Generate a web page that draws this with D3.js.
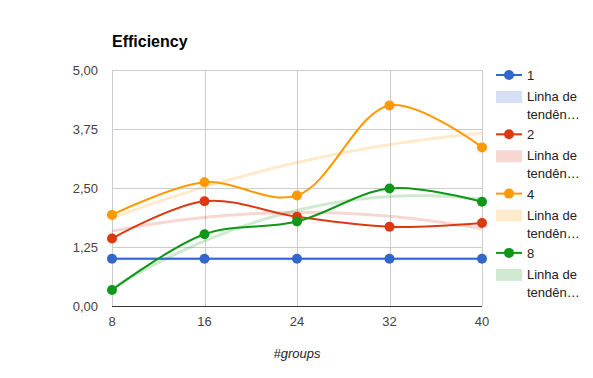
<!DOCTYPE html>
<html><head><meta charset="utf-8">
<script src="https://cdnjs.cloudflare.com/ajax/libs/d3/7.8.5/d3.min.js"></script>
<style>body{margin:0;background:#fff}svg{display:block}</style>
</head><body>
<svg id="c" width="593" height="378"></svg>
<script>
const categories = [8, 16, 24, 32, 40];
const seriesNames = ["1", "2", "4", "8"];
const s1 = [1.00, 1.00, 1.00, 1.00, 1.00];
const s2 = [1.43, 2.22, 1.89, 1.68, 1.76];
const s4 = [1.93, 2.62, 2.34, 4.25, 3.36];
const s8 = [0.34, 1.52, 1.79, 2.49, 2.21];
const yTicks = [0, 1.25, 2.5, 3.75, 5];
const colors = ["#3366cc", "#dc3912", "#ff9900", "#109618"];
const series = [s1, s2, s4, s8];

const svg = d3.select("#c");
const x = d3.scaleLinear().domain([8, 40]).range([112, 482]);
const y = d3.scaleLinear().domain([0, 5]).range([306, 70]);
const fmt = v => d3.format(".2f")(v).replace(".", ",");
const font = "'Liberation Sans', Arial, sans-serif";

// title
svg.append("text").attr("x", 112).attr("y", 47).attr("font-family", font)
  .attr("font-size", 16).attr("font-weight", "bold").attr("fill", "#000").text("Efficiency");

// grid
const g = svg.append("g");
g.selectAll(".hg").data(yTicks.filter(t => t > 0)).join("line")
  .attr("x1", 112).attr("x2", 482).attr("y1", d => Math.round(y(d)) + 0.5).attr("y2", d => Math.round(y(d)) + 0.5)
  .attr("stroke", "#cccccc").attr("stroke-width", 1);
g.selectAll(".vg").data(categories).join("line")
  .attr("x1", d => Math.round(x(d)) + 0.5).attr("x2", d => Math.round(x(d)) + 0.5).attr("y1", 70).attr("y2", 306)
  .attr("stroke", "#cccccc").attr("stroke-width", 1);

// y tick labels
svg.selectAll(".yl").data(yTicks).join("text")
  .attr("x", 98).attr("y", d => y(d) + 5).attr("text-anchor", "end")
  .attr("font-family", font).attr("font-size", 13).attr("fill", "#444").text(fmt);
// x tick labels
svg.selectAll(".xl").data(categories).join("text")
  .attr("x", d => x(d)).attr("y", 326).attr("text-anchor", "middle")
  .attr("font-family", font).attr("font-size", 13).attr("fill", "#444").text(d => d);
// x title
svg.append("text").attr("x", 297).attr("y", 358).attr("text-anchor", "middle")
  .attr("font-family", font).attr("font-size", 13).attr("font-style", "italic").attr("fill", "#222").text("#groups");

// quadratic least-squares trendline (as the chart's polynomial trendline)
function quadFit(xs, ys) {
  const n = xs.length;
  let S = [0,0,0,0,0], T = [0,0,0];
  for (let i = 0; i < n; i++) {
    let p = 1;
    for (let k = 0; k < 5; k++) { S[k] += p; if (k < 3) T[k] += p * ys[i]; p *= xs[i]; }
  }
  const A = [[S[0],S[1],S[2],T[0]],[S[1],S[2],S[3],T[1]],[S[2],S[3],S[4],T[2]]];
  for (let i = 0; i < 3; i++) {
    for (let j = i + 1; j < 3; j++) {
      const f = A[j][i] / A[i][i];
      for (let k = i; k < 4; k++) A[j][k] -= f * A[i][k];
    }
  }
  const c = [0,0,0];
  for (let i = 2; i >= 0; i--) {
    let s = A[i][3];
    for (let k = i + 1; k < 3; k++) s -= A[i][k] * c[k];
    c[i] = s / A[i][i];
  }
  return t => c[0] + c[1] * t + c[2] * t * t;
}

const trendG = svg.append("g");
series.forEach((s, i) => {
  const f = quadFit(categories, s);
  const pts = d3.range(8, 40.01, 0.5).map(t => [t, f(t)]);
  trendG.append("path").datum(pts)
    .attr("d", d3.line().x(d => x(d[0])).y(d => y(d[1])))
    .attr("fill", "none").attr("stroke", colors[i]).attr("stroke-opacity", 0.2).attr("stroke-width", 3);
});

// baseline
svg.append("line").attr("x1", 112).attr("x2", 482).attr("y1", 306.5).attr("y2", 306.5)
  .attr("stroke", "#333").attr("stroke-width", 1);

const lineGen = d3.line().x((d, i) => x(categories[i])).y(d => y(d)).curve(d3.curveCatmullRom.alpha(0.5));
series.forEach((s, i) => {
  svg.append("path").datum(s).attr("d", lineGen).attr("fill", "none")
    .attr("stroke", colors[i]).attr("stroke-width", 2);
  svg.selectAll(null).data(s).join("circle")
    .attr("cx", (d, j) => x(categories[j])).attr("cy", d => y(d)).attr("r", 5).attr("fill", colors[i]);
});

// legend
const lg = svg.append("g");
seriesNames.forEach((name, i) => {
  const y0 = 75 + i * 59.3;
  lg.append("line").attr("x1", 496).attr("x2", 522).attr("y1", y0).attr("y2", y0)
    .attr("stroke", colors[i]).attr("stroke-width", 2);
  lg.append("circle").attr("cx", 509).attr("cy", y0).attr("r", 5).attr("fill", colors[i]);
  lg.append("text").attr("x", 527).attr("y", y0 + 5).attr("font-family", font).attr("font-size", 13)
    .attr("fill", "#222").text(name);
  lg.append("rect").attr("x", 496).attr("y", y0 + 16).attr("width", 26).attr("height", 12)
    .attr("fill", colors[i]).attr("fill-opacity", 0.2);
  lg.append("text").attr("x", 527).attr("y", y0 + 26).attr("font-family", font).attr("font-size", 13)
    .attr("fill", "#222").text("Linha de");
  lg.append("text").attr("x", 527).attr("y", y0 + 44).attr("font-family", font).attr("font-size", 13)
    .attr("fill", "#222").text("tendên…");
});
</script>
</body></html>
